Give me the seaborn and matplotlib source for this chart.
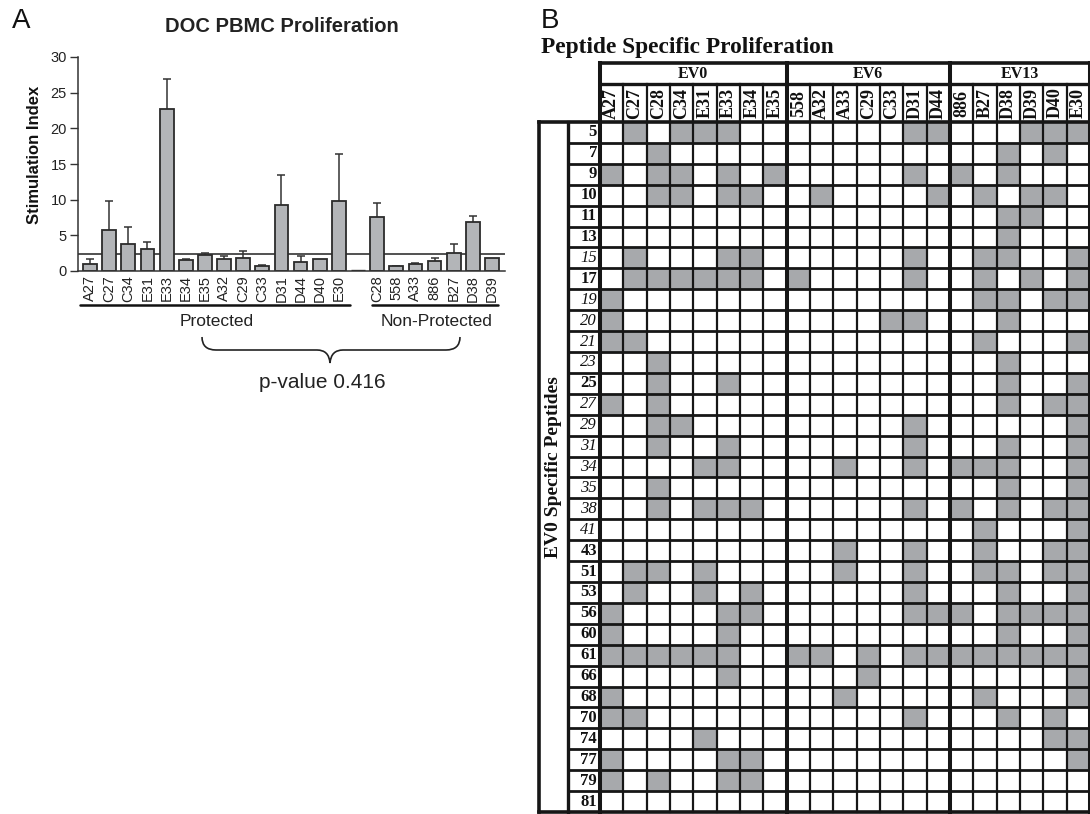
import numpy as np
import pandas as pd
import matplotlib
matplotlib.use('Agg')
import matplotlib.pyplot as plt
import seaborn as sns
from matplotlib.colors import ListedColormap
from matplotlib.path import Path
from matplotlib.patches import PathPatch
from matplotlib.lines import Line2D

# ---------------- Panel A data ----------------
protected_donors = ['A27', 'C27', 'C34', 'E31', 'E33', 'E34', 'E35', 'A32', 'C29', 'C33', 'D31', 'D44', 'D40', 'E30']
protected_si = [1.0, 5.7, 3.85, 3.05, 22.7, 1.6, 2.2, 1.65, 1.85, 0.7, 9.25, 1.26, 1.7, 9.75]
protected_sem = [0.73, 4.15, 2.35, 1.0, 4.25, 0.08, 0.32, 0.5, 0.95, 0.19, 4.15, 0.8, 0.0, 6.6]
nonprotected_donors = ['C28', '558', 'A33', '886', 'B27', 'D38', 'D39']
nonprotected_si = [7.6, 0.65, 1.03, 1.45, 2.57, 6.85, 1.78]
nonprotected_sem = [1.95, 0.1, 0.03, 0.42, 1.26, 0.85, 0.0]
si_threshold = 2.45
p_value_text = 'p-value 0.416'

# ---------------- Panel B data ----------------
ev0_donors = ['A27', 'C27', 'C28', 'C34', 'E31', 'E33', 'E34', 'E35']
ev6_donors = ['558', 'A32', 'A33', 'C29', 'C33', 'D31', 'D44']
ev13_donors = ['886', 'B27', 'D38', 'D39', 'D40', 'E30']
peptides = ['5', '7', '9', '10', '11', '13', '15', '17', '19', '20', '21', '23', '25', '27', '29',
            '31', '34', '35', '38', '41', '43', '51', '53', '56', '60', '61', '66', '68', '70', '74',
            '77', '79', '81']
italic_peptides = ['15', '19', '20', '21', '23', '27', '29', '31', '34', '35', '38', '41']
# 1 = proliferation to peptide; columns EV0 | EV6 | EV13 donors
responses = [
    '01011100 0000011 000111',  # 5
    '00100000 0000000 001010',  # 7
    '10110101 0000010 101000',  # 9
    '00110110 0100001 010110',  # 10
    '00000000 0000000 001100',  # 11
    '00000000 0000000 001000',  # 13
    '01000110 0000010 011001',  # 15
    '01111110 1000010 010101',  # 17
    '10000000 0000000 011011',  # 19
    '10000000 0000110 001000',  # 20
    '11000000 0000000 010001',  # 21
    '00100000 0000000 001000',  # 23
    '00100100 0000000 001001',  # 25
    '10100000 0000000 001011',  # 27
    '00110000 0000010 000001',  # 29
    '00100100 0000010 001001',  # 31
    '00001100 0010010 111001',  # 34
    '00100000 0000000 001001',  # 35
    '00101110 0000010 101011',  # 38
    '00000000 0000000 010001',  # 41
    '00000000 0010010 010011',  # 43
    '01101000 0010010 011011',  # 51
    '01001010 0000010 001001',  # 53
    '10000110 0000011 101111',  # 56
    '10000100 0000000 001001',  # 60
    '11111100 1101011 111111',  # 61
    '00000100 0001000 000001',  # 66
    '10000000 0010000 010001',  # 68
    '11000000 0000010 001010',  # 70
    '00001000 0000000 000011',  # 74
    '10000110 0000000 000001',  # 77
    '10100110 0000000 000000',  # 79
    '00000000 0000000 000000',  # 81
]

# ---------------- style ----------------
sns.set_theme(style='ticks')
plt.rcParams['font.family'] = ['Liberation Sans', 'DejaVu Sans']
SERIF = ['Liberation Serif', 'DejaVu Serif']

W, H = 1090, 814
fig = plt.figure(figsize=(W / 100, H / 100), dpi=100)
fig.patch.set_facecolor('white')


def fx(px):
    return px / W


def fy(py):
    return 1 - py / H


# ================= Panel A =================
axA = fig.add_axes([fx(78), fy(271), (505 - 78) / W, (271 - 57) / H])
gap = ' '
donors_all = protected_donors + [gap] + nonprotected_donors
si_all = protected_si + [0.0] + nonprotected_si
sem_all = protected_sem + [0.0] + nonprotected_sem
dfA = pd.DataFrame({'donor': donors_all, 'si': si_all})
sns.barplot(data=dfA, x='donor', y='si', order=donors_all, color='#b3b5b8', saturation=1,
            edgecolor='#2b2b2b', linewidth=1.3, width=0.72, errorbar=None, ax=axA, zorder=2)
for i, p in enumerate(axA.patches):
    if donors_all[i] == gap:
        p.set_linewidth(2.4)
for i, (v, s) in enumerate(zip(si_all, sem_all)):
    if s > 0:
        axA.vlines(i, v, v + s, color='#333333', lw=1.1, zorder=1.5)
        axA.hlines(v + s, i - 0.21, i + 0.21, color='#333333', lw=1.1, zorder=1.5)
axA.axhline(si_threshold, color='#222222', lw=1.1, zorder=0.9)
axA.set_xlim(-0.63, len(donors_all) - 1 + 0.68)
axA.set_ylim(0, 30)
axA.set_yticks(range(0, 31, 5))
axA.set_xlabel('')
axA.set_ylabel('')
for s in ['top', 'right']:
    axA.spines[s].set_visible(False)
for s in ['left', 'bottom']:
    axA.spines[s].set_color('#333333')
    axA.spines[s].set_linewidth(1.1)
axA.tick_params(axis='y', length=6, width=1.0, color='#333333', labelsize=10.5,
                labelcolor='#222222', pad=2)
axA.tick_params(axis='x', length=0, labelsize=10.5, labelcolor='#222222', pad=3)
for lab in axA.get_xticklabels():
    lab.set_rotation(90)

fig.text(fx(12), fy(8), 'A', fontsize=20, ha='left', va='top', color='#111111')
fig.text(fx(282), fy(27), 'DOC PBMC Proliferation', fontsize=14.5, fontweight='bold',
         ha='center', va='center', color='#222222')
fig.text(fx(35), fy(155), 'Stimulation Index', fontsize=12, fontweight='bold', rotation=90,
         ha='center', va='center', color='#111111')

# group underlines & labels
fig.add_artist(Line2D([fx(80), fx(350)], [fy(305), fy(305)], color='#111111', lw=1.8))
fig.add_artist(Line2D([fx(372), fx(498)], [fy(305), fy(305)], color='#111111', lw=1.8))
fig.text(fx(217), fy(322), 'Protected', fontsize=12.5, ha='center', va='center', color='#222222')
fig.text(fx(437), fy(322), 'Non-Protected', fontsize=12.5, ha='center', va='center', color='#222222')

# curly brace
bx0, bx1, btop, bmid, btip = 202, 460, 337, 350, 363
xm = 330
verts = [(bx0, btop), (bx0, bmid), (bx0 + 14, bmid),
         (xm - 13, bmid),
         (xm - 1, bmid), (xm, btip),
         (xm + 1, bmid), (xm + 13, bmid),
         (bx1 - 14, bmid),
         (bx1, bmid), (bx1, btop)]
codes = [Path.MOVETO, Path.CURVE3, Path.CURVE3, Path.LINETO, Path.CURVE3, Path.CURVE3,
         Path.CURVE3, Path.CURVE3, Path.LINETO, Path.CURVE3, Path.CURVE3]
brace = Path([(fx(a), fy(b)) for a, b in verts], codes)
fig.add_artist(PathPatch(brace, transform=fig.transFigure, fill=False, edgecolor='#222222', lw=1.2))
fig.text(fx(322), fy(382), p_value_text, fontsize=15, ha='center', va='center', color='#222222')

# ================= Panel B =================
donors_B = ev0_donors + ev6_donors + ev13_donors
mat = np.array([[int(c) for c in r.replace(' ', '')] for r in responses])
dfB = pd.DataFrame(mat, index=peptides, columns=donors_B)

gx0, gx1, gy0, gy1 = 600, 1090, 122, 812
axB = fig.add_axes([fx(gx0), fy(gy1), (gx1 - gx0) / W, (gy1 - gy0) / H])
sns.heatmap(dfB, cmap=ListedColormap(['white', '#a7a9ac']), vmin=0, vmax=1, cbar=False,
            linewidths=0, xticklabels=False, yticklabels=False, ax=axB)
axB.set_xlabel('')
axB.set_ylabel('')
ncol, nrow = len(donors_B), len(peptides)
axB.set_xlim(0, ncol)
axB.set_ylim(nrow, 0)
for s in axB.spines.values():
    s.set_visible(False)

cw = (gx1 - gx0) / ncol
rh = (gy1 - gy0) / nrow


def dx(px):
    return (px - gx0) / cw


def dy(py):
    return (py - gy0) / rh


x_outer, x_inner = dx(539), dx(568)
y_top, y_ev = dy(63), dy(84)
LC = '#161616'
kw = dict(color=LC, clip_on=False, solid_capstyle='projecting')

# horizontal row lines
for r in range(1, nrow):
    axB.plot([x_inner, ncol], [r, r], lw=2.0, **kw)
axB.plot([x_outer, ncol], [0, 0], lw=2.6, **kw)
axB.plot([x_outer, ncol], [nrow, nrow], lw=2.6, **kw)
# header lines
axB.plot([0, ncol], [y_top, y_top], lw=2.6, **kw)
axB.plot([0, ncol], [y_ev, y_ev], lw=2.4, **kw)
# vertical lines
bounds = [0, len(ev0_donors), len(ev0_donors) + len(ev6_donors), ncol]
for c in range(1, ncol):
    if c not in bounds:
        axB.plot([c, c], [y_ev, nrow], lw=1.6, **kw)
for c in bounds:
    axB.plot([c, c], [y_top, nrow], lw=2.9, **kw)
axB.plot([x_inner, x_inner], [0, nrow], lw=2.4, **kw)
axB.plot([x_outer, x_outer], [0, nrow], lw=2.6, **kw)

# header texts
for name, a, b in [('EV0', bounds[0], bounds[1]), ('EV6', bounds[1], bounds[2]), ('EV13', bounds[2], bounds[3])]:
    axB.text((a + b) / 2, (y_top + y_ev) / 2, name, family=SERIF, fontweight='bold', fontsize=11.5,
             ha='center', va='center', color='#111111')
for i, d in enumerate(donors_B):
    axB.text(i + 0.5, y_ev / 2, d, family=SERIF, fontweight='bold', fontsize=13, rotation=90,
             ha='center', va='center', color='#111111')
for j, p in enumerate(peptides):
    ital = p in italic_peptides
    axB.text(dx(597), j + 0.5, p, family=SERIF, fontsize=12,
             fontweight='normal' if ital else 'bold', fontstyle='italic' if ital else 'normal',
             ha='right', va='center', color='#111111')
axB.text((x_outer + x_inner) / 2, nrow / 2, 'EV0 Specific Peptides', family=SERIF, fontweight='bold',
         fontsize=14, rotation=90, ha='center', va='center', color='#111111')

fig.text(fx(541), fy(8), 'B', fontsize=20, ha='left', va='top', color='#111111')
fig.text(fx(541), fy(47), 'Peptide Specific Proliferation', family=SERIF, fontweight='bold',
         fontsize=16.8, ha='left', va='center', color='#111111')

fig.savefig('out.png', dpi=100, facecolor='white')
